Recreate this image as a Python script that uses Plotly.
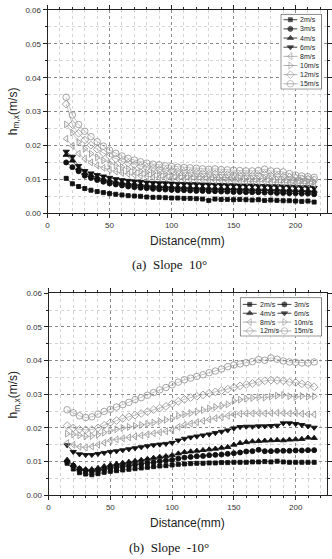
import plotly.graph_objects as go

# ---------------- data ----------------
distance_mm = [15, 20, 25, 30, 35, 40, 45, 50, 55, 60,
               65, 70, 75, 80, 85, 90, 95, 100, 105, 110,
               115, 120, 125, 130, 135, 140, 145, 150, 155, 160,
               165, 170, 175, 180, 185, 190, 195, 200, 205, 210,
               215]

speeds = ["2m/s", "3m/s", "4m/s", "6m/s", "8m/s", "10m/s", "12m/s", "15m/s"]

# (a) Slope 10 deg
a_2 = [0.0103, 0.0087, 0.0079, 0.0073, 0.0068, 0.0064, 0.0061, 0.0058, 0.0056, 0.0054,
       0.0052, 0.0051, 0.0050, 0.0048, 0.0047, 0.0047, 0.0046, 0.0045, 0.0045, 0.0044,
       0.0044, 0.0043, 0.0042, 0.0038, 0.0042, 0.0041, 0.0041, 0.0040, 0.0041, 0.0040,
       0.0039, 0.0040, 0.0038, 0.0039, 0.0038, 0.0037, 0.0037, 0.0036, 0.0035, 0.0036,
       0.0033]
a_3 = [0.0150, 0.0136, 0.0124, 0.0111, 0.0104, 0.0098, 0.0093, 0.0088, 0.0085, 0.0082,
       0.0079, 0.0077, 0.0075, 0.0074, 0.0072, 0.0071, 0.0070, 0.0069, 0.0068, 0.0068,
       0.0067, 0.0066, 0.0066, 0.0065, 0.0065, 0.0064, 0.0064, 0.0063, 0.0063, 0.0062,
       0.0062, 0.0062, 0.0061, 0.0061, 0.0060, 0.0060, 0.0059, 0.0059, 0.0058, 0.0058,
       0.0056]
a_4 = [0.0172, 0.0155, 0.0132, 0.0118, 0.0112, 0.0106, 0.0101, 0.0097, 0.0093, 0.0090,
       0.0088, 0.0086, 0.0084, 0.0082, 0.0081, 0.0080, 0.0079, 0.0078, 0.0077, 0.0077,
       0.0076, 0.0075, 0.0075, 0.0074, 0.0074, 0.0073, 0.0073, 0.0073, 0.0072, 0.0072,
       0.0071, 0.0071, 0.0071, 0.0070, 0.0070, 0.0069, 0.0069, 0.0068, 0.0068, 0.0067,
       0.0066]
a_6 = [0.0182, 0.0167, 0.0140, 0.0125, 0.0118, 0.0113, 0.0109, 0.0105, 0.0101, 0.0098,
       0.0096, 0.0094, 0.0093, 0.0091, 0.0090, 0.0089, 0.0089, 0.0088, 0.0087, 0.0087,
       0.0086, 0.0086, 0.0085, 0.0085, 0.0084, 0.0084, 0.0083, 0.0083, 0.0082, 0.0082,
       0.0082, 0.0081, 0.0081, 0.0080, 0.0080, 0.0079, 0.0079, 0.0078, 0.0077, 0.0077,
       0.0075]
a_8 = [0.0220, 0.0199, 0.0176, 0.0161, 0.0150, 0.0141, 0.0134, 0.0128, 0.0123, 0.0119,
       0.0116, 0.0113, 0.0111, 0.0109, 0.0107, 0.0105, 0.0104, 0.0103, 0.0102, 0.0101,
       0.0100, 0.0099, 0.0099, 0.0098, 0.0097, 0.0097, 0.0096, 0.0096, 0.0095, 0.0094,
       0.0094, 0.0093, 0.0094, 0.0092, 0.0091, 0.0091, 0.0090, 0.0089, 0.0088, 0.0087,
       0.0086]
a_10 = [0.0262, 0.0238, 0.0210, 0.0190, 0.0176, 0.0165, 0.0156, 0.0148, 0.0141, 0.0136,
        0.0131, 0.0127, 0.0124, 0.0121, 0.0119, 0.0117, 0.0115, 0.0113, 0.0112, 0.0111,
        0.0110, 0.0109, 0.0108, 0.0107, 0.0106, 0.0106, 0.0105, 0.0104, 0.0104, 0.0103,
        0.0102, 0.0102, 0.0104, 0.0101, 0.0100, 0.0099, 0.0098, 0.0097, 0.0096, 0.0095,
        0.0093]
a_12 = [0.0322, 0.0262, 0.0236, 0.0216, 0.0201, 0.0189, 0.0178, 0.0169, 0.0161, 0.0154,
        0.0148, 0.0143, 0.0139, 0.0135, 0.0132, 0.0129, 0.0127, 0.0125, 0.0123, 0.0121,
        0.0120, 0.0119, 0.0117, 0.0116, 0.0116, 0.0115, 0.0114, 0.0113, 0.0112, 0.0112,
        0.0111, 0.0112, 0.0115, 0.0111, 0.0110, 0.0108, 0.0106, 0.0104, 0.0102, 0.0101,
        0.0099]
a_15 = [0.0342, 0.0290, 0.0262, 0.0242, 0.0226, 0.0211, 0.0198, 0.0186, 0.0177, 0.0169,
        0.0162, 0.0157, 0.0152, 0.0148, 0.0145, 0.0143, 0.0140, 0.0138, 0.0136, 0.0135,
        0.0134, 0.0133, 0.0131, 0.0130, 0.0131, 0.0129, 0.0128, 0.0127, 0.0126, 0.0125,
        0.0125, 0.0126, 0.0130, 0.0125, 0.0124, 0.0122, 0.0117, 0.0113, 0.0110, 0.0108,
        0.0106]

# (b) Slope -10 deg
b_2 = [0.0095, 0.0078, 0.0067, 0.0063, 0.0061, 0.0064, 0.0068, 0.0071, 0.0073, 0.0075,
       0.0077, 0.0079, 0.0081, 0.0083, 0.0085, 0.0087, 0.0088, 0.0090, 0.0092, 0.0093,
       0.0094, 0.0095, 0.0095, 0.0096, 0.0096, 0.0097, 0.0097, 0.0098, 0.0098, 0.0098,
       0.0099, 0.0099, 0.0100, 0.0099, 0.0101, 0.0099, 0.0098, 0.0098, 0.0098, 0.0098,
       0.0098]
b_3 = [0.0100, 0.0088, 0.0078, 0.0073, 0.0071, 0.0073, 0.0077, 0.0080, 0.0083, 0.0086,
       0.0088, 0.0091, 0.0093, 0.0096, 0.0098, 0.0101, 0.0103, 0.0105, 0.0109, 0.0112,
       0.0114, 0.0116, 0.0117, 0.0119, 0.0120, 0.0121, 0.0123, 0.0125, 0.0127, 0.0130,
       0.0131, 0.0135, 0.0131, 0.0131, 0.0132, 0.0132, 0.0132, 0.0133, 0.0133, 0.0134,
       0.0134]
b_4 = [0.0105, 0.0090, 0.0080, 0.0077, 0.0077, 0.0081, 0.0086, 0.0090, 0.0093, 0.0096,
       0.0099, 0.0102, 0.0105, 0.0108, 0.0111, 0.0114, 0.0116, 0.0119, 0.0124, 0.0128,
       0.0130, 0.0132, 0.0134, 0.0136, 0.0138, 0.0141, 0.0143, 0.0150, 0.0155, 0.0158,
       0.0160, 0.0161, 0.0162, 0.0163, 0.0164, 0.0163, 0.0165, 0.0166, 0.0167, 0.0171,
       0.0170]
b_6 = [0.0149, 0.0129, 0.0122, 0.0120, 0.0120, 0.0123, 0.0126, 0.0129, 0.0131, 0.0134,
       0.0137, 0.0140, 0.0143, 0.0146, 0.0149, 0.0151, 0.0153, 0.0156, 0.0163, 0.0168,
       0.0172, 0.0175, 0.0178, 0.0181, 0.0185, 0.0189, 0.0193, 0.0199, 0.0203, 0.0204,
       0.0204, 0.0205, 0.0205, 0.0206, 0.0207, 0.0214, 0.0214, 0.0212, 0.0209, 0.0205,
       0.0201]
b_8 = [0.0155, 0.0150, 0.0144, 0.0142, 0.0145, 0.0150, 0.0156, 0.0163, 0.0166, 0.0169,
       0.0172, 0.0175, 0.0178, 0.0181, 0.0184, 0.0187, 0.0190, 0.0193, 0.0203, 0.0209,
       0.0213, 0.0217, 0.0221, 0.0225, 0.0229, 0.0232, 0.0236, 0.0240, 0.0242, 0.0243,
       0.0243, 0.0244, 0.0243, 0.0244, 0.0245, 0.0244, 0.0243, 0.0244, 0.0242, 0.0241,
       0.0240]
b_10 = [0.0183, 0.0181, 0.0178, 0.0175, 0.0176, 0.0180, 0.0186, 0.0192, 0.0196, 0.0200,
        0.0203, 0.0206, 0.0209, 0.0212, 0.0216, 0.0220, 0.0224, 0.0228, 0.0236, 0.0240,
        0.0244, 0.0248, 0.0253, 0.0258, 0.0262, 0.0266, 0.0270, 0.0280, 0.0284, 0.0287,
        0.0289, 0.0291, 0.0290, 0.0293, 0.0296, 0.0298, 0.0294, 0.0292, 0.0295, 0.0293,
        0.0294]
b_12 = [0.0207, 0.0200, 0.0196, 0.0194, 0.0195, 0.0200, 0.0208, 0.0216, 0.0222, 0.0228,
        0.0233, 0.0238, 0.0243, 0.0248, 0.0254, 0.0259, 0.0264, 0.0272, 0.0279, 0.0285,
        0.0290, 0.0294, 0.0298, 0.0303, 0.0307, 0.0311, 0.0315, 0.0320, 0.0325, 0.0329,
        0.0332, 0.0336, 0.0340, 0.0342, 0.0341, 0.0340, 0.0336, 0.0335, 0.0331, 0.0328,
        0.0322]
b_15 = [0.0254, 0.0245, 0.0236, 0.0231, 0.0233, 0.0241, 0.0249, 0.0255, 0.0262, 0.0269,
        0.0276, 0.0284, 0.0290, 0.0297, 0.0305, 0.0313, 0.0320, 0.0328, 0.0336, 0.0343,
        0.0348, 0.0353, 0.0358, 0.0364, 0.0369, 0.0375, 0.0382, 0.0387, 0.0390, 0.0394,
        0.0397, 0.0403, 0.0401, 0.0408, 0.0404, 0.0399, 0.0396, 0.0395, 0.0393, 0.0393,
        0.0396]

series_a = [a_2, a_3, a_4, a_6, a_8, a_10, a_12, a_15]
series_b = [b_2, b_3, b_4, b_6, b_8, b_10, b_12, b_15]

y_ticks = [0.00, 0.01, 0.02, 0.03, 0.04, 0.05, 0.06]
x_ticks = [0, 50, 100, 150, 200]

# ---------------- styles ----------------
W, H = 332, 559
symbols = ["square", "circle", "triangle-up", "triangle-down",
           "triangle-left-open", "triangle-right-open", "diamond-open", "circle-open"]
sizes = [4, 5, 5.5, 5.5, 6, 6, 6, 6.5]
BLACK = "#111111"
GREY = "#9a9a9a"
colors = [BLACK] * 4 + [GREY] * 4

SANS = "Liberation Sans, Arial, sans-serif"
SERIF = "Liberation Serif, Times New Roman, serif"


def px_x(p):
    return p / W


def px_y(p):
    return 1 - p / H


fig = go.Figure()

for axis_id, data in (("", series_a), ("2", series_b)):
    for name, vals, sym, sz, col in zip(speeds, data, symbols, sizes, colors):
        fig.add_trace(go.Scatter(
            x=distance_mm, y=vals, name=name, mode="lines+markers",
            xaxis="x" + axis_id, yaxis="y" + axis_id,
            line=dict(color=col, width=0.6),
            marker=dict(symbol=sym, size=sz, color=col,
                        line=dict(color=col, width=0.9)),
            showlegend=False,
        ))

x_common = dict(
    range=[0, 225], tickvals=x_ticks, ticks="outside", ticklen=4,
    tickcolor="#222", showline=True, linecolor="#222", linewidth=1,
    mirror="ticks", showgrid=True, gridcolor="#8a8a8a", griddash="dot",
    gridwidth=1, zeroline=False,
    tickfont=dict(family=SANS, size=8, color="#333"),
    minor=dict(dtick=10, ticks="outside", ticklen=2, tickcolor="#222",
               showgrid=True, gridcolor="#d4d4d4", griddash="dot", gridwidth=1),
)
y_common = dict(
    range=[0, 0.06], tickvals=y_ticks, tickformat=".2f", ticks="outside",
    ticklen=4, tickcolor="#222", showline=True, linecolor="#222", linewidth=1,
    mirror="ticks", showgrid=True, gridcolor="#8a8a8a", griddash="dot",
    gridwidth=1, zeroline=False,
    tickfont=dict(family=SANS, size=8, color="#333"),
    minor=dict(dtick=0.005, ticks="outside", ticklen=2, tickcolor="#222",
               showgrid=True, gridcolor="#d4d4d4", griddash="dot", gridwidth=1),
)
hidden = dict(visible=False, showgrid=False, zeroline=False, fixedrange=True)

# legend boxes (pixel boxes in the figure)
LEG_A = dict(x0=281, x1=323, y0=10, y1=87)
LEG_B = dict(x0=240, x1=323, y0=298, y1=338)

fig.update_layout(
    width=W, height=H, margin=dict(l=0, r=0, t=0, b=0),
    paper_bgcolor="white", plot_bgcolor="white", showlegend=False,
    xaxis=dict(domain=[px_x(46), px_x(327.5)], anchor="y", **x_common),
    yaxis=dict(domain=[px_y(212.7), px_y(6)], anchor="x", **y_common),
    xaxis2=dict(domain=[px_x(47), px_x(327.5)], anchor="y2", **x_common),
    yaxis2=dict(domain=[px_y(499.3), px_y(294)], anchor="x2", **y_common),
    # legend-key axes: one unit = one pixel inside each legend box
    xaxis3=dict(domain=[px_x(LEG_A["x0"]), px_x(LEG_A["x1"])], anchor="y3",
                range=[0, LEG_A["x1"] - LEG_A["x0"]], **hidden),
    yaxis3=dict(domain=[px_y(LEG_A["y1"]), px_y(LEG_A["y0"])], anchor="x3",
                range=[LEG_A["y1"] - LEG_A["y0"], 0], **hidden),
    xaxis4=dict(domain=[px_x(LEG_B["x0"]), px_x(LEG_B["x1"])], anchor="y4",
                range=[0, LEG_B["x1"] - LEG_B["x0"]], **hidden),
    yaxis4=dict(domain=[px_y(LEG_B["y1"]), px_y(LEG_B["y0"])], anchor="x4",
                range=[LEG_B["y1"] - LEG_B["y0"], 0], **hidden),
)

annotations = []

# axis titles and captions
for ytitle_px, xtitle_px, cap_px, cap in ((109, 241, 265, "(a)  Slope  10°"),
                                          (397, 527, 552, "(b)  Slope  -10°")):
    annotations.append(dict(
        text="h<sub>m,x</sub>(m/s)", xref="paper", yref="paper",
        x=px_x(12), y=px_y(ytitle_px), textangle=-90, showarrow=False,
        font=dict(family=SANS, size=12, color="#222"),
        xanchor="center", yanchor="middle"))
    annotations.append(dict(
        text="Distance(mm)", xref="paper", yref="paper",
        x=px_x(187), y=px_y(xtitle_px), showarrow=False,
        font=dict(family=SANS, size=12, color="#222"),
        xanchor="center", yanchor="middle"))
    annotations.append(dict(
        text=cap, xref="paper", yref="paper",
        x=px_x(169), y=px_y(cap_px), showarrow=False,
        font=dict(family=SERIF, size=13, color="#111"),
        xanchor="center", yanchor="middle"))

# legend frames: white filled boxes in the legend-key subplots
for ax, box in (("3", LEG_A), ("4", LEG_B)):
    bw = box["x1"] - box["x0"]
    bh = box["y1"] - box["y0"]
    fig.add_trace(go.Scatter(
        x=[0.4, bw - 0.4, bw - 0.4, 0.4, 0.4],
        y=[0.4, 0.4, bh - 0.4, bh - 0.4, 0.4],
        mode="lines", fill="toself", fillcolor="white",
        line=dict(color="#444", width=0.8),
        xaxis="x" + ax, yaxis="y" + ax, showlegend=False, hoverinfo="skip"))


def legend_key(i, ax, cx, cy, label_px_x, label_px_y):
    col = colors[i]
    fig.add_trace(go.Scatter(
        x=[cx - 7, cx, cx + 7], y=[cy, cy, cy], mode="lines+markers",
        xaxis="x" + ax, yaxis="y" + ax, showlegend=False, hoverinfo="skip",
        line=dict(color=col, width=0.8),
        marker=dict(symbol=symbols[i], size=[0, sizes[i], 0], color=col,
                    line=dict(color=col, width=0.9)),
    ))
    annotations.append(dict(
        text=speeds[i], xref="paper", yref="paper",
        x=px_x(label_px_x), y=px_y(label_px_y),
        showarrow=False, xanchor="left", yanchor="middle",
        font=dict(family=SANS, size=7, color="#222")))


# legend (a): single column
for i in range(len(speeds)):
    cy = 6 + 9.3 * i
    legend_key(i, "3", 10, cy, LEG_A["x0"] + 18, LEG_A["y0"] + cy)

# legend (b): two columns
for i in range(len(speeds)):
    row, col_i = divmod(i, 2)
    cx = 10 if col_i == 0 else 45
    cy = 7.3 + 9.0 * row
    legend_key(i, "4", cx, cy, LEG_B["x0"] + cx + 8, LEG_B["y0"] + cy)

fig.update_layout(annotations=annotations)

fig.write_html("out.html")
